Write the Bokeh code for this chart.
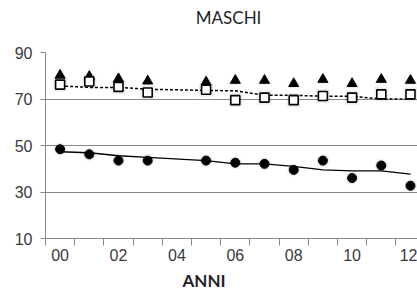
from bokeh.plotting import figure
from bokeh.models import Range1d, FixedTicker, Title, LinearAxis
from bokeh.embed import file_html
from bokeh.resources import INLINE

# ---- data ----
years = ["00", "01", "02", "03", "05", "06", "07", "08", "09", "10", "11", "12"]
year_pos = [0, 1, 2, 3, 5, 6, 7, 8, 9, 10, 11, 12]
triangles = [80.2, 79.7, 78.7, 77.7, 77.3, 78.0, 78.0, 76.6, 78.4, 76.6, 78.4, 78.0]
squares = [76.2, 77.5, 75.2, 72.8, 74.0, 69.5, 70.6, 69.5, 71.3, 70.6, 72.0, 72.0]
squares_trend = [75.6, 75.0, 75.0, 74.2, 73.7, 73.5, 71.6, 71.6, 71.2, 71.2, 70.0, 70.0]
circles = [48.4, 46.2, 43.5, 43.5, 43.5, 42.6, 42.1, 39.5, 43.5, 36.0, 41.4, 32.7]
circles_trend = [47.3, 46.9, 45.6, 44.9, 43.5, 42.1, 42.1, 41.0, 39.5, 39.1, 39.1, 37.7]
tick_years = [0, 2, 4, 6, 8, 10, 12]
tick_labels = ["00", "02", "04", "06", "08", "10", "12"]
y_ticks = [10, 30, 50, 70, 90]
title_text = "MASCHI"
xlabel_text = "ANNI"

GRID = "#8a8a8a"
TXT = "#3a3a3a"

p = figure(width=417, height=294, output_backend="svg", toolbar_location=None,
           x_range=Range1d(-0.5, 12.24), y_range=Range1d(10, 90),
           min_border_left=45, min_border_right=0, min_border_top=52,
           min_border_bottom=55)
p.outline_line_color = None
p.background_fill_color = "white"
p.border_fill_color = "white"
p.title = None

# y axis
p.yaxis.ticker = FixedTicker(ticks=y_ticks)
p.yaxis.axis_line_color = GRID
p.yaxis.major_tick_line_color = GRID
p.yaxis.major_tick_out = 5
p.yaxis.major_tick_in = 0
p.yaxis.minor_tick_line_color = None
p.yaxis.major_label_standoff = 8
p.yaxis.major_label_text_font = "Liberation Sans"
p.yaxis.major_label_text_font_size = "16px"
p.yaxis.major_label_text_color = TXT

# x axis: labels at every other category, ticks at category boundaries
p.xaxis.ticker = FixedTicker(ticks=tick_years,
                             minor_ticks=[i - 0.5 for i in range(14)])
p.xaxis.major_label_overrides = {t: l for t, l in zip(tick_years, tick_labels)}
p.xaxis.axis_line_color = GRID
p.xaxis.major_tick_line_color = None
p.xaxis.major_tick_out = 7
p.xaxis.major_tick_in = 0
p.xaxis.minor_tick_line_color = GRID
p.xaxis.minor_tick_out = 7
p.xaxis.minor_tick_in = 0
p.xaxis.major_label_standoff = 3
p.xaxis.major_label_text_font = "Liberation Sans"
p.xaxis.major_label_text_font_size = "16px"
p.xaxis.major_label_text_color = TXT

p.xgrid.grid_line_color = None
p.ygrid.ticker = FixedTicker(ticks=y_ticks)
p.ygrid.grid_line_color = GRID
p.ygrid.grid_line_width = 1

# chart title drawn as the single label of an invisible top axis
TITLE_X = 5.77
top_axis = LinearAxis(ticker=FixedTicker(ticks=[TITLE_X], minor_ticks=[]),
                      major_label_overrides={TITLE_X: title_text},
                      axis_line_color=None, major_tick_line_color=None,
                      minor_tick_line_color=None, major_tick_out=0, major_tick_in=0,
                      major_label_standoff=25,
                      major_label_text_font="Lato",
                      major_label_text_font_size="17px",
                      major_label_text_color="#1e1e2a")
p.add_layout(top_axis, "above")

# trend lines
p.line(year_pos, squares_trend, line_color="black", line_width=1.5, line_dash="3 2")
p.line(year_pos, circles_trend, line_color="black", line_width=1.4)

# soft halos
for m, vals, s in (("triangle", triangles, 14), ("square", squares, 14), ("circle", circles, 13)):
    p.scatter(year_pos, vals, marker=m, size=s, fill_color="#000000",
              fill_alpha=0.07, line_color=None)

# markers
p.scatter(year_pos, triangles, marker="triangle", size=10, fill_color="black",
          line_color="black")
p.scatter(year_pos, squares, marker="square", size=9, fill_color="white",
          line_color="black", line_width=1.6)
p.scatter(year_pos, circles, marker="circle", size=9, fill_color="black",
          line_color="black")

p.add_layout(Title(text=xlabel_text, align="left", offset=137, standoff=8,
                   text_font="Lato", text_font_size="17px", text_font_style="bold",
                   text_color="#1e1e2a"), "below")

open("out.html", "w").write(file_html(p, INLINE))
